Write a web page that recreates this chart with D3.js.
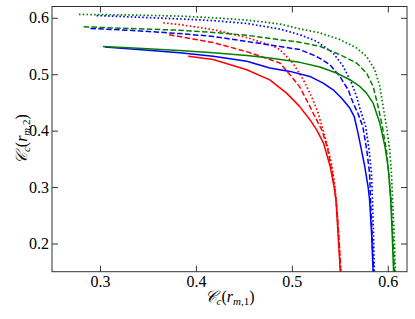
<!DOCTYPE html>
<html>
<head>
<meta charset="utf-8">
<script src="https://cdn.jsdelivr.net/npm/d3@7"></script>
<style>
  html, body { margin: 0; padding: 0; background: #fff; }
  svg { display: block; }
  text { font-family: "Liberation Serif", "DejaVu Serif", serif; fill: #000; }
</style>
</head>
<body>
<svg id="chart" width="415" height="319"></svg>
<script>
// ---- data (x = Cc(r_m,1), y = Cc(r_m,2)) ----
const redSolid = [[0.392,0.532],[0.418,0.526],[0.453,0.508],[0.477,0.490],[0.4945,0.4665],[0.508,0.443],[0.519,0.419],[0.526,0.401],[0.533,0.378],[0.540,0.336],[0.544,0.300],[0.546,0.277],[0.548,0.22],[0.5505,0.15]];
const redDashed = [[0.372,0.570],[0.395,0.563],[0.418,0.556],[0.453,0.540],[0.477,0.526],[0.4875,0.520],[0.498,0.499],[0.508,0.478],[0.517,0.449],[0.524,0.425],[0.5315,0.400],[0.537,0.370],[0.541,0.335],[0.5445,0.300],[0.547,0.260],[0.549,0.210],[0.551,0.15]];
const redDotted = [[0.366,0.591],[0.383,0.588],[0.418,0.579],[0.453,0.565],[0.4805,0.550],[0.4875,0.5436],[0.501,0.520],[0.512,0.490],[0.5205,0.4605],[0.5274,0.431],[0.5326,0.401],[0.5375,0.370],[0.542,0.335],[0.545,0.300],[0.547,0.260],[0.549,0.210],[0.551,0.15]];
const blueSolid = [[0.305,0.548],[0.34,0.544],[0.383,0.538],[0.418,0.532],[0.453,0.523],[0.477,0.511],[0.498,0.505],[0.5188,0.4961],[0.5326,0.4843],[0.543,0.4724],[0.5517,0.4577],[0.5604,0.440],[0.565,0.425],[0.569,0.395],[0.5725,0.366],[0.576,0.336],[0.5795,0.300],[0.581,0.277],[0.583,0.22],[0.5847,0.15]];
const blueDashed = [[0.290,0.581],[0.33,0.578],[0.383,0.572],[0.418,0.567],[0.453,0.558],[0.4805,0.551],[0.5083,0.5436],[0.5257,0.5317],[0.5396,0.5169],[0.55,0.4961],[0.5587,0.4724],[0.5639,0.4488],[0.569,0.430],[0.574,0.407],[0.578,0.366],[0.581,0.324],[0.582,0.277],[0.5835,0.22],[0.585,0.15]];
const blueDotted = [[0.2965,0.604],[0.34,0.601],[0.383,0.598],[0.418,0.595],[0.453,0.590],[0.4875,0.580],[0.5083,0.570],[0.5257,0.5584],[0.543,0.5377],[0.5535,0.5139],[0.5622,0.4843],[0.5674,0.4605],[0.5708,0.440],[0.577,0.407],[0.5805,0.366],[0.583,0.324],[0.584,0.277],[0.585,0.22],[0.586,0.15]];
const greenSolid = [[0.303,0.549],[0.34,0.546],[0.383,0.542],[0.418,0.538],[0.453,0.533],[0.4771,0.5288],[0.5083,0.521],[0.5292,0.5128],[0.5465,0.5021],[0.5604,0.4902],[0.5708,0.4783],[0.5778,0.4665],[0.5847,0.4488],[0.5917,0.413],[0.597,0.372],[0.6003,0.336],[0.602,0.300],[0.603,0.277],[0.6045,0.22],[0.606,0.15]];
const greenDashed = [[0.283,0.584],[0.33,0.581],[0.383,0.578],[0.418,0.574],[0.453,0.569],[0.4875,0.561],[0.5083,0.5566],[0.5292,0.5495],[0.55,0.5347],[0.5674,0.5199],[0.5778,0.5021],[0.5847,0.4783],[0.5899,0.4427],[0.594,0.410],[0.5985,0.366],[0.601,0.324],[0.6035,0.277],[0.605,0.22],[0.607,0.15]];
const greenDotted = [[0.278,0.606],[0.33,0.605],[0.383,0.603],[0.418,0.600],[0.453,0.596],[0.4875,0.589],[0.5083,0.5804],[0.5292,0.5733],[0.55,0.5614],[0.5674,0.5466],[0.5778,0.5317],[0.5865,0.508],[0.5917,0.4783],[0.5951,0.4427],[0.5986,0.407],[0.602,0.366],[0.6038,0.324],[0.605,0.277],[0.6065,0.22],[0.608,0.15]];

const xTicks = [0.3, 0.4, 0.5, 0.6];
const yTicks = [0.2, 0.3, 0.4, 0.5, 0.6];
const xDomain = [0.25, 0.62];
const yDomain = [0.15, 0.62];

const series = [
  {data: redSolid,    color: "#ff0000", style: "solid"},
  {data: redDashed,   color: "#ff0000", style: "dashed"},
  {data: redDotted,   color: "#ff0000", style: "dotted"},
  {data: blueSolid,   color: "#0000ff", style: "solid"},
  {data: blueDashed,  color: "#0000ff", style: "dashed"},
  {data: blueDotted,  color: "#0000ff", style: "dotted"},
  {data: greenSolid,  color: "#008000", style: "solid"},
  {data: greenDashed, color: "#008000", style: "dashed"},
  {data: greenDotted, color: "#008000", style: "dotted"}
];

// ---- layout ----
const W = 415, H = 319;
const m = {left: 52, right: 8, top: 6.5, bottom: 47.3};
const pw = W - m.left - m.right, ph = H - m.top - m.bottom;

const svg = d3.select("#chart");
const x = d3.scaleLinear().domain(xDomain).range([m.left, m.left + pw]);
const y = d3.scaleLinear().domain(yDomain).range([m.top + ph, m.top]);

svg.append("defs").append("clipPath").attr("id", "clip")
  .append("rect").attr("x", m.left).attr("y", m.top).attr("width", pw).attr("height", ph);

const dash = {solid: null, dashed: "5.5,2.4", dotted: "1.6,2.2"};
const line = d3.line().x(d => x(d[0])).y(d => y(d[1]));

const gLines = svg.append("g").attr("clip-path", "url(#clip)");
series.forEach(s => {
  gLines.append("path")
    .attr("d", line(s.data))
    .attr("fill", "none")
    .attr("stroke", s.color)
    .attr("stroke-width", s.style === "dotted" ? 1.7 : 1.5)
    .attr("stroke-dasharray", dash[s.style])
    .attr("stroke-linejoin", "round");
});

const fmt = d3.format(".1f");
const tickLen = 6;
const axisColor = "#333";

function styleAxis(g) {
  g.attr("font-family", null);
  g.select(".domain").remove();
  g.selectAll(".tick line").attr("stroke", axisColor).attr("stroke-width", 1);
  g.selectAll(".tick text").attr("font-size", 16).attr("fill", "#222")
    .attr("font-family", '"Liberation Serif", serif')
    .style("font-family", '"Liberation Serif", serif');
}

svg.append("g").attr("transform", `translate(0,${m.top + ph})`)
  .call(d3.axisBottom(x).tickValues(xTicks).tickFormat(fmt).tickSize(-tickLen).tickPadding(4))
  .call(styleAxis);
svg.append("g").attr("transform", `translate(0,${m.top})`)
  .call(d3.axisTop(x).tickValues(xTicks).tickFormat("").tickSize(-tickLen))
  .call(styleAxis);
svg.append("g").attr("transform", `translate(${m.left},0)`)
  .call(d3.axisLeft(y).tickValues(yTicks).tickFormat(fmt).tickSize(-tickLen).tickPadding(3))
  .call(styleAxis);
svg.append("g").attr("transform", `translate(${m.left + pw},0)`)
  .call(d3.axisRight(y).tickValues(yTicks).tickFormat("").tickSize(-tickLen))
  .call(styleAxis);

svg.append("rect")
  .attr("x", m.left).attr("y", m.top).attr("width", pw).attr("height", ph)
  .attr("fill", "none").attr("stroke", axisColor).attr("stroke-width", 1);

// ---- axis labels ----
function mathLabel(t, idx) {
  t.attr("font-size", 16).attr("text-anchor", "middle");
  t.append("tspan").attr("font-style", "italic").text("\u{1D49E}");
  t.append("tspan").attr("font-style", "italic").attr("font-size", 11).attr("dy", 3).text("c");
  t.append("tspan").attr("dy", -3).text("(");
  t.append("tspan").attr("font-style", "italic").text("r");
  t.append("tspan").attr("font-style", "italic").attr("font-size", 11).attr("dy", 3).text("m");
  t.append("tspan").attr("font-size", 11).text("," + idx);
  t.append("tspan").attr("dy", -3).text(")");
}

svg.append("text")
  .attr("transform", `translate(${m.left + pw / 2},302)`)
  .call(mathLabel, 1);
svg.append("text")
  .attr("transform", `translate(26.5,${m.top + ph / 2}) rotate(-90)`)
  .call(mathLabel, 2);
</script>
</body>
</html>
